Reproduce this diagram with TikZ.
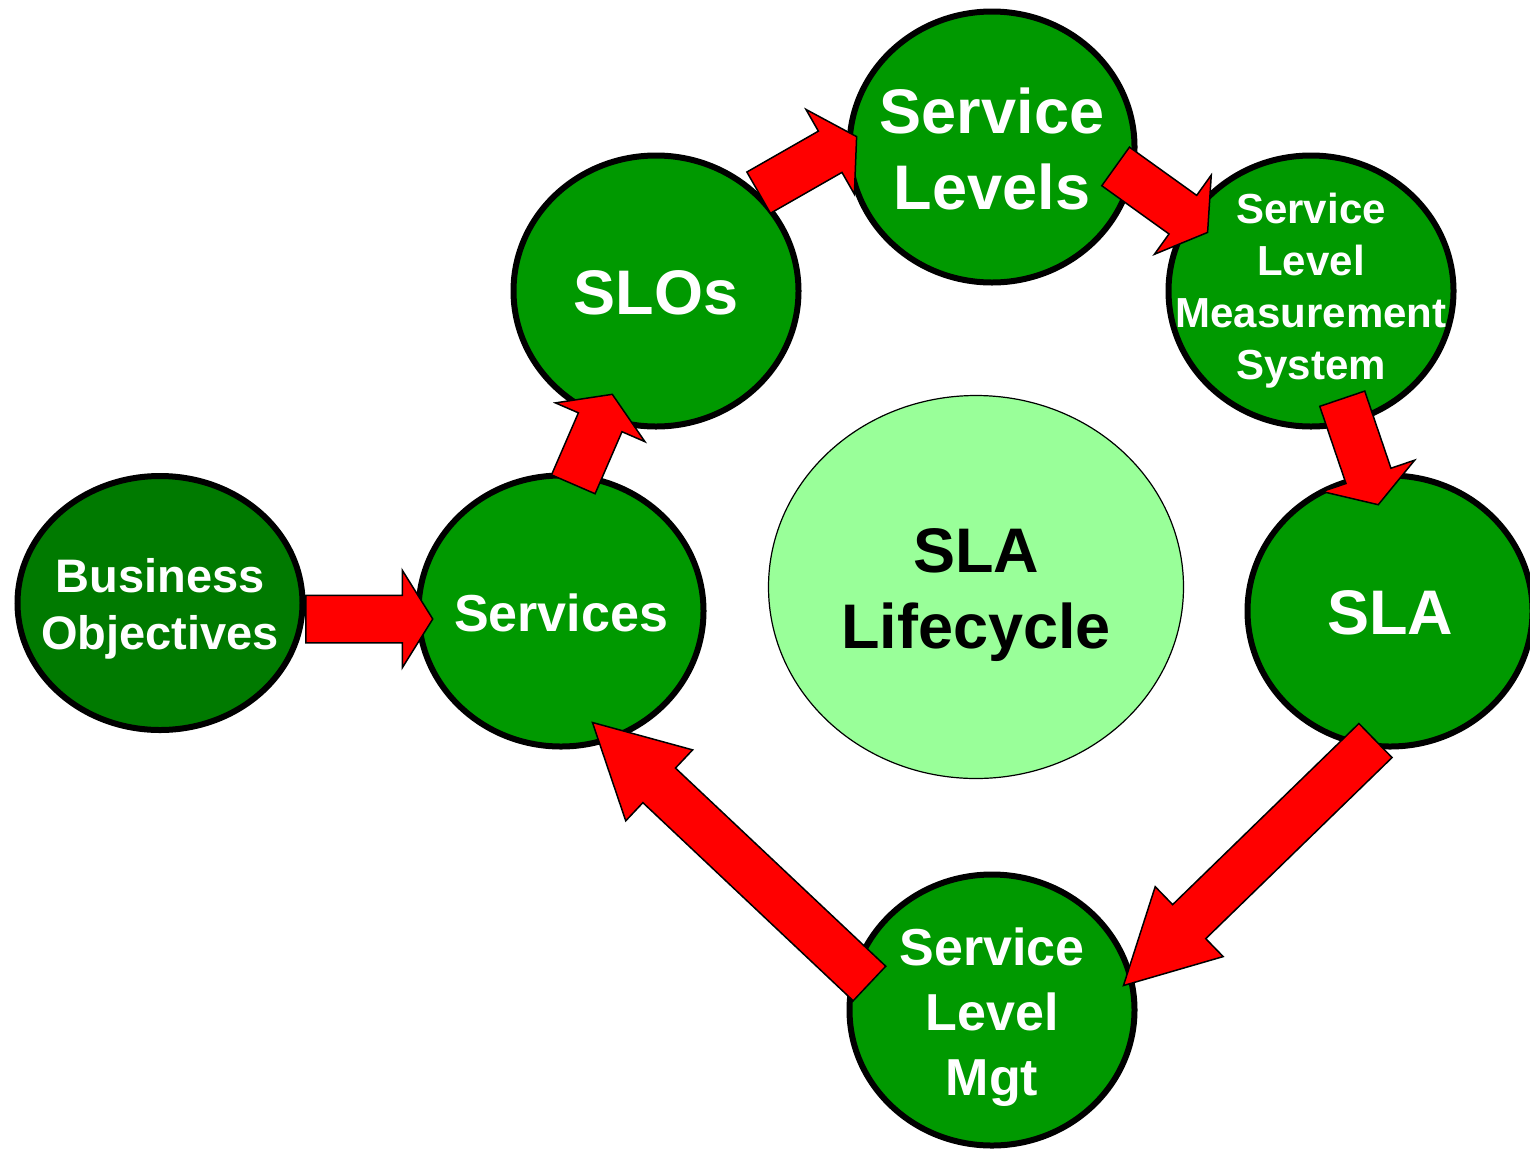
\documentclass[tikz,border=0pt]{standalone}
\usepackage{fontspec}
\setmainfont{Liberation Sans}
\usetikzlibrary{shapes.geometric,shapes.arrows,calc}

\definecolor{slagreen}{HTML}{009900}
\definecolor{bizgreen}{HTML}{007A00}
\definecolor{lifegreen}{HTML}{99FF99}

\tikzset{
  bubble/.style={ellipse, draw=black, line width=6pt, fill=slagreen,
    minimum width=285pt, minimum height=271pt, inner sep=0pt},
  hub/.style={ellipse, draw=black, line width=1.2pt, fill=lifegreen,
    minimum width=415pt, minimum height=383pt, inner sep=0pt},
  txtL/.style={text=white, align=center, yshift=-2pt, font=\bfseries\fontsize{63}{76}\selectfont},
  txtM/.style={text=white, align=center, yshift=-2pt, font=\bfseries\fontsize{52}{65}\selectfont},
  txtS/.style={text=white, align=center, yshift=-2pt, font=\bfseries\fontsize{47}{57}\selectfont},
  txtXS/.style={text=white, align=center, font=\bfseries\fontsize{42}{52}\selectfont},
  flow/.style={single arrow, draw=black, line width=1.5pt, fill=red,
    inner xsep=0pt, inner ysep=23pt, minimum width=0pt, anchor=tail,
    single arrow head extend=25pt, single arrow tip angle=116},
  longflow/.style={flow, single arrow tip angle=56}
}

% block arrow: [style]{name}{from}{to}
\newcommand{\blockarrow}[4][flow]{%
  \path let \p1=($(#4)-(#3)$), \n1={atan2(\y1,\x1)}, \n2={veclen(\x1,\y1)} in
    node[#1, minimum height=\n2, rotate=\n1] (#2) at (#3) {};}

\begin{document}
\begin{tikzpicture}[x=1pt,y=-1pt]
\useasboundingbox (0,0) rectangle (1530,1152);

% bubbles
\node[bubble, fill=bizgreen, minimum height=254pt] (bo) at (160,603) {};
\node[txtS, yshift=-4pt] (botxt) at (bo) {Business\\Objectives};
\node[bubble] (sv) at (561,611) {};
\node[txtM] (svtxt) at (sv) {Services};
\node[bubble] (slo) at (656,291) {};
\node[txtL] (slotxt) at (slo) {SLOs};
\node[bubble] (sl) at (992,147) {};
\node[txtL] (sltxt) at (sl) {Service\\Levels};
\node[bubble] (slms) at (1311,291) {};
\node[txtXS] (slmstxt) at (slms) {Service\\Level\\Measurement\\System};
\node[bubble] (sla) at (1390,611) {};
\node[txtL] (slatxt) at (sla) {SLA};
\node[bubble] (mgt) at (992,1010) {};
\node[txtM, yshift=-5pt] (mgttxt) at (mgt) {Service\\Level\\Mgt};

% centre
\node[hub] (life) at (976,587) {};
\node[txtL, text=black, yshift=-6pt] (lifetxt) at (life) {SLA\\Lifecycle};

% arrow ends
\coordinate (a1s) at ($(bo)+(145,16)$);
\coordinate (a1e) at ($(sv)+(-129,8)$);
\coordinate (a2s) at ($(sv)+(12,-126)$);
\coordinate (a2e) at ($(slo)+(-44,104)$);
\coordinate (a3s) at ($(slo)+(102,-98)$);
\coordinate (a3e) at ($(sl)+(-136,-10)$);
\coordinate (a4s) at ($(sl)+(123,19)$);
\coordinate (a4e) at ($(slms)+(-104,-59)$);
\coordinate (a5s) at ($(slms)+(31,107)$);
\coordinate (a5e) at ($(sla)+(-12,-107)$);
\coordinate (a6s) at ($(sla)+(-14,129)$);
\coordinate (a6e) at ($(mgt)+(132,-25)$);
\coordinate (a7s) at ($(mgt)+(-122,-26)$);
\coordinate (a7e) at ($(sv)+(32,112)$);

% arrows
\blockarrow{a1}{a1s}{a1e}
\blockarrow{a2}{a2s}{a2e}
\blockarrow{a3}{a3s}{a3e}
\blockarrow{a4}{a4s}{a4e}
\blockarrow{a5}{a5s}{a5e}
\blockarrow[longflow]{a6}{a6s}{a6e}
\blockarrow[longflow]{a7}{a7s}{a7e}
\end{tikzpicture}
\end{document}
